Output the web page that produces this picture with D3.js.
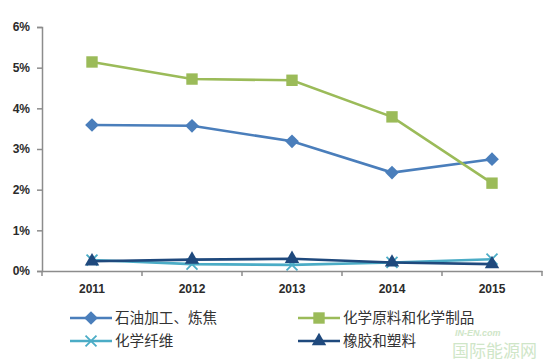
<!DOCTYPE html>
<html>
<head>
<meta charset="utf-8">
<script src="https://cdn.jsdelivr.net/npm/d3@7"></script>
<style>
  body { margin: 0; background: #fff; }
  svg { display: block; font-family: "Liberation Sans", "Noto Sans CJK SC", sans-serif; }
</style>
</head>
<body>
<script>
// chart data
var years = ["2011", "2012", "2013", "2014", "2015"];
var yTicks = [0, 1, 2, 3, 4, 5, 6];
var petroleum = [3.59, 3.57, 3.19, 2.42, 2.75];
var chemicals = [5.14, 4.72, 4.69, 3.79, 2.16];
var fibre = [0.27, 0.17, 0.15, 0.21, 0.29];
var rubber = [0.24, 0.28, 0.30, 0.21, 0.17];
var names = ["石油加工、炼焦", "化学原料和化学制品", "化学纤维", "橡胶和塑料"];

var width = 543, height = 364;
var pad = {left: 42, right: 1, top: 27, bottom: 93};

var svg = d3.select("body").append("svg")
    .attr("width", width)
    .attr("height", height);

var xScale = d3.scaleBand()
    .domain(years)
    .range([pad.left, width - pad.right]);
var yScale = d3.scaleLinear()
    .domain([0, 6])
    .range([height - pad.bottom, pad.top]);

// y axis
var yAxis = svg.append("g")
    .attr("transform", "translate(" + pad.left + ",0)")
    .call(d3.axisLeft(yScale).tickValues(yTicks).tickSize(5).tickPadding(7)
          .tickFormat(function(d){ return d + "%"; }));
yAxis.select(".domain").attr("stroke", "#8c8c8c").attr("stroke-width", 1.5);
yAxis.selectAll(".tick line").attr("stroke", "#8c8c8c").attr("stroke-width", 1.5);
yAxis.selectAll("text").attr("fill", "#2b2b2b").style("font-size", "12px").style("font-weight", "bold");

// x axis, ticks between categories
var xAxis = svg.append("g")
    .attr("transform", "translate(0," + yScale(0) + ")")
    .call(d3.axisBottom(xScale).tickSize(0).tickPadding(13));
xAxis.select(".domain").attr("stroke", "#8c8c8c").attr("stroke-width", 1.5);
xAxis.selectAll("text").attr("fill", "#2b2b2b").style("font-size", "12px").style("font-weight", "bold");
var bounds = years.map(function(d){ return xScale(d); });
bounds.push(xScale(years[years.length - 1]) + xScale.bandwidth());
xAxis.selectAll(".btick")
    .data(bounds).enter()
    .append("line")
    .attr("x1", function(d){ return d; })
    .attr("x2", function(d){ return d; })
    .attr("y1", 0).attr("y2", 5)
    .attr("stroke", "#8c8c8c").attr("stroke-width", 1.5);

var cx = function(i){ return xScale(years[i]) + xScale.bandwidth() / 2; };

var series = [
  {name: names[0], values: petroleum, colour: "#4a7ebb", marker: d3.symbolDiamond2, size: 120},
  {name: names[1], values: chemicals, colour: "#9bbb59", marker: d3.symbolSquare, size: 130},
  {name: names[2], values: fibre, colour: "#4bacc6", marker: d3.symbolX, size: 80},
  {name: names[3], values: rubber, colour: "#1f497d", marker: d3.symbolTriangle, size: 90}
];

var line = d3.line()
    .x(function(d, i){ return cx(i); })
    .y(function(d){ return yScale(d); });

var drawMarker = function(g, s, x, y){
  var sym = g.append("path")
      .attr("transform", "translate(" + x + "," + y + ")")
      .attr("d", d3.symbol().type(s.marker).size(s.size)());
  if (s.marker == d3.symbolX){
    sym.attr("fill", "none").attr("stroke", s.colour).attr("stroke-width", 1.8);
  } else {
    sym.attr("fill", s.colour);
  }
};

// lines, draw the back ones first
var order = [2, 0, 1, 3];
for (var k of order){
  var s = series[k];
  var g = svg.append("g").attr("class", "series");
  g.append("path")
   .attr("d", line(s.values))
   .attr("fill", "none")
   .attr("stroke", s.colour)
   .attr("stroke-width", 2.6);
  s.values.forEach(function(v, i){ drawMarker(g, s, cx(i), yScale(v)); });
}

// legend
var legendPos = [[70, 318], [298, 318], [70, 341], [298, 341]];
series.forEach(function(s, i){
  var p = legendPos[i];
  var g = svg.append("g");
  g.append("line")
   .attr("x1", p[0]).attr("x2", p[0] + 42)
   .attr("y1", p[1]).attr("y2", p[1])
   .attr("stroke", s.colour).attr("stroke-width", 2.6);
  drawMarker(g, s, p[0] + 21, p[1]);
  g.append("text")
   .attr("x", p[0] + 45).attr("y", p[1] + 5)
   .attr("fill", "#333")
   .style("font-size", "14.6px")
   .style("font-family", "'Noto Sans CJK SC', sans-serif")
   .text(s.name);
});

// faint watermark
svg.append("text")
   .attr("x", 455).attr("y", 336)
   .attr("fill", "#cfe6c8")
   .style("font-size", "9px").style("font-style", "italic").style("font-weight", "bold")
   .text("IN-EN.com");
svg.append("text")
   .attr("x", 452).attr("y", 357)
   .attr("fill", "#cfe6c8")
   .style("font-size", "17px")
   .style("font-family", "'Noto Sans CJK SC', sans-serif")
   .text("国际能源网");
</script>
</body>
</html>
